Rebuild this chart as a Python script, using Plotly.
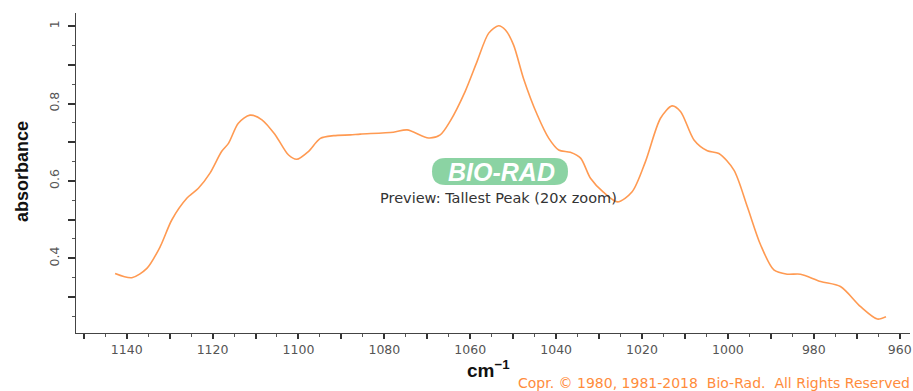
import plotly.graph_objects as go

# data
wavenumber = [1142.7, 1138.8, 1135.3, 1132.2, 1129.5, 1126.0, 1123.3, 1120.6, 1117.9, 1116.3,
              1114.0, 1111.3, 1108.5, 1105.4, 1102.3, 1100.4, 1097.7, 1094.9, 1091.8, 1087.9,
              1085.6, 1077.9, 1074.7, 1069.7, 1067.0, 1064.7, 1061.2, 1058.4, 1055.7, 1053.4,
              1051.8, 1049.9, 1047.6, 1044.4, 1041.7, 1039.4, 1036.7, 1034.3, 1032.0, 1029.0,
              1025.7, 1022.3, 1019.2, 1015.7, 1013.0, 1011.0, 1007.9, 1004.8, 1002.1, 998.6,
              995.5, 992.4, 989.3, 986.2, 983.1, 978.4, 973.8, 969.1, 965.2, 963.2]
absorbance = [0.361, 0.350, 0.374, 0.430, 0.499, 0.555, 0.581, 0.620, 0.676, 0.697,
              0.749, 0.770, 0.758, 0.719, 0.667, 0.656, 0.676, 0.710, 0.717, 0.719,
              0.721, 0.726, 0.732, 0.711, 0.719, 0.754, 0.831, 0.909, 0.982, 1.001,
              0.990, 0.951, 0.865, 0.771, 0.710, 0.680, 0.674, 0.659, 0.607, 0.571,
              0.546, 0.572, 0.650, 0.762, 0.794, 0.779, 0.706, 0.678, 0.671, 0.628,
              0.534, 0.435, 0.370, 0.359, 0.359, 0.340, 0.327, 0.275, 0.243, 0.249]

x_tickvals = [1150, 1140, 1130, 1120, 1110, 1100, 1090, 1080, 1070, 1060, 1050, 1040,
              1030, 1020, 1010, 1000, 990, 980, 970, 960]
x_ticktext = ["", "1140", "", "1120", "", "1100", "", "1080", "", "1060", "", "1040",
              "", "1020", "", "1000", "", "980", "", "960"]
y_tickvals = [0.3, 0.4, 0.5, 0.6, 0.7, 0.8, 0.9, 1.0]
y_ticktext = ["", "0.4", "", "0.6", "", "0.8", "", "1"]

W, H = 913, 391
L, R, T, B = 76, 3, 13, 58
PW, PH = W - L - R, H - T - B


def px(xp):
    return (xp - L) / PW


def py(yp):
    return (H - B - yp) / PH


fig = go.Figure()
fig.add_trace(go.Scatter(
    x=wavenumber, y=absorbance, mode="lines",
    line=dict(color="#ff9a52", width=1.6, shape="spline", smoothing=0.8),
    hoverinfo="skip", showlegend=False,
))

axis_font = dict(family="DejaVu Sans, sans-serif", size=12.5, color="#555555")
fig.update_xaxes(
    range=[1151.8, 957.6], tickmode="array", tickvals=x_tickvals, ticktext=x_ticktext,
    ticks="outside", ticklen=5, tickwidth=1.5, tickcolor="#333333",
    minor=dict(dtick=5, tick0=960, ticks="outside", ticklen=3, tickwidth=1, tickcolor="#555555"),
    showline=True, linecolor="#444444", linewidth=1.2, showgrid=False, zeroline=False,
    tickfont=axis_font, ticklabelstandoff=0,
)
fig.update_yaxes(
    range=[0.207, 1.034], tickmode="array", tickvals=y_tickvals, ticktext=y_ticktext,
    ticks="outside", ticklen=7, tickwidth=1.5, tickcolor="#333333",
    minor=dict(dtick=0.05, tick0=0.0, ticks="outside", ticklen=3, tickwidth=1, tickcolor="#555555"),
    showline=True, linecolor="#444444", linewidth=1.2, showgrid=False, zeroline=False,
    tickfont=axis_font, tickangle=-90, ticklabelstandoff=4,
)

# rounded logo pill
x0, x1, y0, y1 = 432, 568, 158, 185
r = (y1 - y0) / 2
path = (f"M {px(x0 + r)} {py(y0)} L {px(x1 - r)} {py(y0)} "
        f"Q {px(x1)} {py(y0)} {px(x1)} {py(y0 + r)} "
        f"Q {px(x1)} {py(y1)} {px(x1 - r)} {py(y1)} "
        f"L {px(x0 + r)} {py(y1)} "
        f"Q {px(x0)} {py(y1)} {px(x0)} {py(y0 + r)} "
        f"Q {px(x0)} {py(y0)} {px(x0 + r)} {py(y0)} Z")
fig.add_shape(type="path", path=path, xref="paper", yref="paper",
              fillcolor="#8bd3a3", line=dict(width=0), layer="below")

annotations = [
    dict(text="<b><i>BIO-RAD</i></b>", x=px(501), y=py(171.5),
         font=dict(family="Liberation Sans, Arial", size=25, color="white")),
    dict(text="Preview: Tallest Peak (20x zoom)", x=px(499), y=py(198),
         font=dict(family="DejaVu Sans", size=14.5, color="#333333")),
    dict(text="<b>absorbance</b>", x=px(22), y=py(172), textangle=-90,
         font=dict(family="Liberation Sans, Arial", size=18, color="#111111")),
    dict(text="<b>cm<sup>−1</sup></b>", x=px(488), y=py(369),
         font=dict(family="Liberation Sans, Arial", size=19, color="#111111")),
    dict(text="Copr. © 1980, 1981-2018  Bio-Rad.  All Rights Reserved", x=px(912), y=py(383),
         xanchor="right",
         font=dict(family="DejaVu Sans", size=14, color="#ff8c3c")),
]
for a in annotations:
    a.setdefault("xanchor", "center")
    a.update(xref="paper", yref="paper", yanchor="middle", showarrow=False)
    fig.add_annotation(**a)

fig.update_layout(
    width=W, height=H, margin=dict(l=L, r=R, t=T, b=B, autoexpand=False),
    plot_bgcolor="white", paper_bgcolor="white",
)

fig.write_html("out.html", config={"displayModeBar": False})

# remove the browser's default page margin so the figure sits at (0, 0)
with open("out.html", encoding="utf-8") as f:
    html = f.read()
html = html.replace("<head>", "<head><style>html,body{margin:0;padding:0;overflow:hidden;}</style>", 1)
with open("out.html", "w", encoding="utf-8") as f:
    f.write(html)
